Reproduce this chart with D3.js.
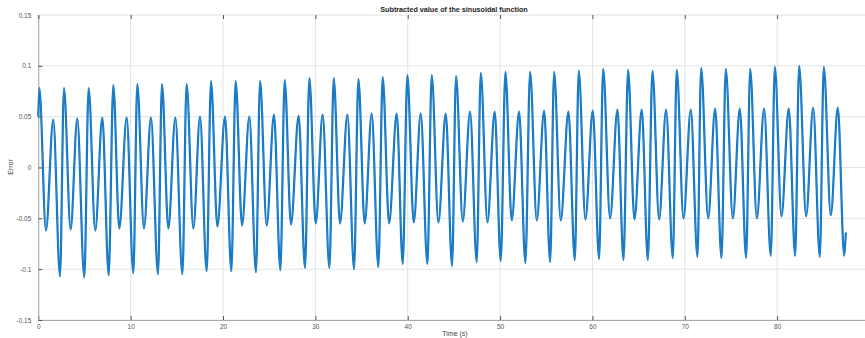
<!DOCTYPE html>
<html>
<head>
<meta charset="utf-8">
<script src="https://cdn.jsdelivr.net/npm/d3@7"></script>
<style>
  html, body { margin: 0; padding: 0; background: #fff; }
  svg { display: block; }
  text { font-family: "Liberation Sans", Arial, Helvetica, sans-serif; }
</style>
</head>
<body>
<svg id="chart" width="865" height="338"></svg>
<script>
// Extrema (time in s, error value)
const times = [
  0.00, 0.11, 0.83, 1.62, 2.35, 2.78, 3.50, 4.22, 4.98, 5.45, 6.17, 6.93, 7.62,
  8.12, 8.77, 9.57, 10.29, 10.72, 11.44, 12.20, 12.96, 13.39, 14.08, 14.84, 15.60,
  16.06, 16.79, 17.51, 18.23, 18.70, 19.39, 20.22, 20.90, 21.37, 22.06, 22.85, 23.57,
  24.01, 24.73, 25.52, 26.21, 26.68, 27.36, 28.19, 28.88, 29.35, 30.04, 30.79, 31.52,
  31.99, 32.67, 33.47, 34.19, 34.66, 35.34, 36.10, 36.82, 37.29, 37.98, 38.81, 39.46,
  39.96, 40.65, 41.41, 42.13, 42.60, 43.32, 44.12, 44.80, 45.23, 45.96, 46.75, 47.47,
  47.91, 48.63, 49.42, 50.07, 50.58, 51.26, 52.06, 52.74, 53.25, 53.97, 54.77, 55.42,
  55.85, 56.57, 57.40, 58.09, 58.52, 59.24, 60.04, 60.72, 61.16, 61.91, 62.71, 63.36,
  63.86, 64.55, 65.34, 66.00, 66.50, 67.22, 67.98, 68.70, 69.13, 69.86, 70.65, 71.37,
  71.77, 72.53, 73.29, 73.97, 74.44, 75.20, 75.96, 76.64, 77.08, 77.80, 78.59, 79.31,
  79.75, 80.47, 81.26, 81.95, 82.38, 83.14, 83.90, 84.62, 85.05, 85.81, 86.57, 87.26,
  87.44
];
const errors = [
  0.050, 0.078, -0.062, 0.047, -0.107, 0.078, -0.061, 0.048, -0.108, 0.078, -0.062, 0.049, -0.106,
  0.081, -0.060, 0.049, -0.104, 0.082, -0.060, 0.049, -0.105, 0.082, -0.060, 0.049, -0.105,
  0.082, -0.060, 0.050, -0.102, 0.085, -0.058, 0.050, -0.102, 0.085, -0.057, 0.050, -0.103,
  0.085, -0.057, 0.052, -0.101, 0.086, -0.056, 0.051, -0.099, 0.088, -0.055, 0.052, -0.099,
  0.088, -0.055, 0.052, -0.100, 0.087, -0.055, 0.053, -0.098, 0.089, -0.055, 0.053, -0.095,
  0.091, -0.054, 0.053, -0.095, 0.091, -0.054, 0.053, -0.097, 0.090, -0.053, 0.055, -0.093,
  0.093, -0.054, 0.055, -0.092, 0.094, -0.052, 0.055, -0.094, 0.094, -0.052, 0.056, -0.093,
  0.094, -0.052, 0.055, -0.091, 0.095, -0.051, 0.056, -0.090, 0.097, -0.050, 0.057, -0.091,
  0.096, -0.051, 0.057, -0.091, 0.095, -0.051, 0.057, -0.089, 0.096, -0.050, 0.057, -0.088,
  0.098, -0.050, 0.058, -0.089, 0.097, -0.050, 0.058, -0.089, 0.097, -0.050, 0.058, -0.087,
  0.099, -0.048, 0.058, -0.087, 0.100, -0.048, 0.059, -0.088, 0.099, -0.047, 0.059, -0.087,
  -0.064
];
const xTicks = [0, 10, 20, 30, 40, 50, 60, 70, 80];
const yTicks = [-0.15, -0.1, -0.05, 0, 0.05, 0.1, 0.15];
const titleText = "Subtracted value of the sinusoidal function";
const xLabelText = "Time (s)";
const yLabelText = "Error";

const data = times.map((t, i) => ({ t: t, v: errors[i] }));

const svg = d3.select("#chart");
const mLeft = 38.3, mRight = 869.5, mTop = 15, mBottom = 320;

const x = d3.scaleLinear().domain([0, 90]).range([mLeft, mRight]);
const y = d3.scaleLinear().domain([-0.15, 0.15]).range([mBottom, mTop]);

// grid
const grid = svg.append("g");
grid.selectAll("line.gx").data(xTicks).join("line")
  .attr("x1", d => x(d)).attr("x2", d => x(d))
  .attr("y1", mTop).attr("y2", mBottom)
  .attr("stroke", "#e3e3e3").attr("stroke-width", 1);
grid.selectAll("line.gy").data(yTicks).join("line")
  .attr("x1", mLeft).attr("x2", mRight)
  .attr("y1", d => y(d)).attr("y2", d => y(d))
  .attr("stroke", "#e3e3e3").attr("stroke-width", 1);

// axes
const fmt = d => (d === 0 ? "0" : String(+d.toFixed(2)));
const xAxis = d3.axisBottom(x).tickValues(xTicks).tickSizeInner(-4).tickSizeOuter(0).tickPadding(6).tickFormat(fmt);
const yAxis = d3.axisLeft(y).tickValues(yTicks).tickSizeInner(-4).tickSizeOuter(0).tickPadding(7).tickFormat(fmt);

const gx = svg.append("g").attr("transform", `translate(0,${mBottom})`).call(xAxis);
const gy = svg.append("g").attr("transform", `translate(${mLeft},0)`).call(yAxis);
[gx, gy].forEach(g => {
  g.select(".domain").attr("stroke", "#a9a9a9").attr("stroke-width", 1);
  g.selectAll(".tick line").attr("stroke", "#555");
  g.selectAll(".tick text").attr("fill", "#555").attr("font-size", 6.5);
});
gx.selectAll(".tick text").attr("dy", "0.5em");

// top tick marks (box)
const xTop = d3.axisTop(x).tickValues(xTicks).tickSizeInner(-4).tickSizeOuter(0).tickFormat("");
const gt = svg.append("g").attr("transform", `translate(0,${mTop})`).call(xTop);
gt.select(".domain").attr("stroke", "#eeeeee");
gt.selectAll(".tick line").attr("stroke", "#555");

// line
const line = d3.line().x(d => x(d.t)).y(d => y(d.v)).curve(d3.curveMonotoneX);
svg.append("path").datum(data)
  .attr("d", line)
  .attr("fill", "none")
  .attr("stroke", "#0a72c2")
  .attr("stroke-width", 2.2)
  .attr("stroke-linejoin", "round");
svg.append("path").datum(data)
  .attr("d", line)
  .attr("fill", "none")
  .attr("stroke", "#4a9ad8")
  .attr("stroke-width", 0.6)
  .attr("stroke-opacity", 0.7);

// texts
svg.append("text").attr("x", 454).attr("y", 11.5)
  .attr("text-anchor", "middle").attr("font-size", 7.2).attr("font-weight", "bold")
  .attr("fill", "#222").text(titleText);
svg.append("text").attr("x", 455).attr("y", 335.5)
  .attr("text-anchor", "middle").attr("font-size", 7)
  .attr("fill", "#444").text(xLabelText);
svg.append("text").attr("transform", "translate(12.5,167) rotate(-90)")
  .attr("text-anchor", "middle").attr("font-size", 7)
  .attr("fill", "#444").text(yLabelText);
</script>
</body>
</html>
